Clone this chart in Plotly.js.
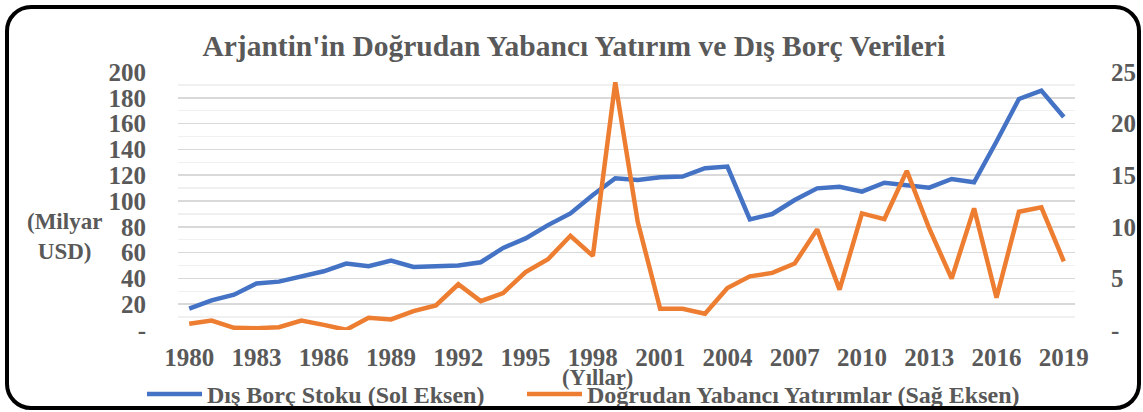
<!DOCTYPE html>
<html>
<head>
<meta charset="utf-8">
<script src="https://cdn.plot.ly/plotly-3.0.1.min.js"></script>
<style>
html,body{margin:0;padding:0;background:#fff;}
#wrap{position:relative;width:1143px;height:412px;}
#chart{position:absolute;left:0;top:0;width:1143px;height:412px;}
#frame{position:absolute;left:5px;top:5px;width:1128px;height:397px;border:4.5px solid #000;border-radius:26px;pointer-events:none;}
</style>
</head>
<body>
<div id="wrap"><div id="chart"></div><div id="frame"></div></div>
<script>
const years = [1980,1981,1982,1983,1984,1985,1986,1987,1988,1989,1990,1991,1992,1993,1994,1995,1996,1997,1998,1999,2000,2001,2002,2003,2004,2005,2006,2007,2008,2009,2010,2011,2012,2013,2014,2015,2016,2017,2018,2019];
const externalDebt = [16.5,23,27.4,36,37.5,41.9,45.5,51.5,49.4,53.8,48.9,49.5,50,52.5,63.6,71,81.3,90.4,104.6,117.6,116.3,118.4,118.9,125.4,126.7,85.7,89.9,100.8,109.8,111.1,107.2,114.2,111.9,110.3,117.1,114.5,146.1,179.1,185.6,165.1];
const fdi = [0.6,0.92,0.21,0.18,0.27,0.92,0.5,0.02,1.19,1.02,1.83,2.38,4.43,2.8,3.58,5.62,6.86,9.13,7.18,24.0,10.49,2.06,2.06,1.58,4.07,5.2,5.53,6.44,9.75,3.91,11.3,10.75,15.42,9.84,4.98,11.79,3.13,11.46,11.89,6.66];
const xTicks = [1980,1983,1986,1989,1992,1995,1998,2001,2004,2007,2010,2013,2016,2019];
const leftTicks = [0,20,40,60,80,100,120,140,160,180,200];
const leftTickText = ['-','20','40','60','80','100','120','140','160','180','200'];
const rightTicks = [0,5,10,15,20,25];
const rightTickText = ['-','5','10','15','20','25'];
const titleText = "Arjantin'in Doğrudan Yabancı Yatırım ve Dış Borç Verileri";
const seriesNames = ['Dış Borç Stoku (Sol Eksen)','Doğrudan Yabancı Yatırımlar (Sağ Eksen)'];

const FONT = 'Liberation Serif, Times New Roman, serif';
const GRAY = '#595959';
const tf = {family: FONT, size: 25, color: GRAY, weight: 'bold'};
const lf = {family: FONT, size: 24, color: GRAY, weight: 'bold'};

const traces = [
  {x: years, y: externalDebt, name: seriesNames[0], type: 'scatter', mode: 'lines',
   line: {color: '#4472C4', width: 4.5}, yaxis: 'y', legend: 'legend'},
  {x: years, y: fdi, name: seriesNames[1], type: 'scatter', mode: 'lines',
   line: {color: '#ED7D31', width: 4.5}, yaxis: 'y2', legend: 'legend2'}
];

const layout = {
  width: 1143, height: 412,
  margin: {l: 178, r: 68, t: 72, b: 82, autoexpand: false},
  paper_bgcolor: 'rgba(0,0,0,0)', plot_bgcolor: '#fff',
  font: tf,
  title: {text: titleText, x: 0.502, xanchor: 'center', y: 0.89, yanchor: 'middle',
          font: {family: FONT, size: 29.5, color: GRAY, weight: 'bold'}},
  showlegend: true,
  legend: {orientation: 'h', xref: 'container', yref: 'container', x: 142/1143, xanchor: 'left', y: 0.043, yanchor: 'middle',
           font: lf, itemwidth: 55, bgcolor: 'rgba(0,0,0,0)'},
  legend2: {orientation: 'h', xref: 'container', yref: 'container', x: 522/1143, xanchor: 'left', y: 0.043, yanchor: 'middle',
           font: lf, itemwidth: 55, bgcolor: 'rgba(0,0,0,0)'},
  xaxis: {range: [1979.5, 2019.5], tickmode: 'array', tickvals: xTicks,
          ticks: 'outside', ticklen: 5, tickcolor: 'rgba(0,0,0,0)',
          showgrid: false, zeroline: false, showline: false, automargin: false,
          tickfont: tf, fixedrange: true},
  yaxis: {range: [0, 200], tickmode: 'array', tickvals: leftTicks, ticktext: leftTickText,
          ticks: 'outside', ticklen: 26, tickcolor: 'rgba(0,0,0,0)', automargin: false,
          showgrid: true, gridcolor: '#d9d9d9', gridwidth: 1.5, zeroline: false, showline: false,
          minor: {dtick: 10, showgrid: true, gridcolor: '#f0f0f0', gridwidth: 1.5},
          tickfont: tf},
  yaxis2: {range: [0, 25], overlaying: 'y', side: 'right', tickmode: 'array', tickvals: rightTicks, ticktext: rightTickText,
           ticks: 'outside', ticklen: 30, tickcolor: 'rgba(0,0,0,0)', automargin: false,
           showgrid: false, zeroline: false, showline: false,
           tickfont: tf},
  annotations: [
    {text: '(Milyar<br>USD)', xref: 'paper', yref: 'paper', x: -0.127, y: 0.364,
     xanchor: 'center', yanchor: 'middle', showarrow: false, align: 'center',
     font: {family: FONT, size: 23, color: GRAY, weight: 'bold'}},
    {text: '(Yıllar)', xref: 'paper', yref: 'paper', x: 0.468, y: -0.186,
     xanchor: 'center', yanchor: 'middle', showarrow: false,
     font: {family: FONT, size: 22.5, color: GRAY, weight: 'bold'}}
  ]
};

Plotly.newPlot('chart', traces, layout, {displayModeBar: false, staticPlot: true});
</script>
</body>
</html>
